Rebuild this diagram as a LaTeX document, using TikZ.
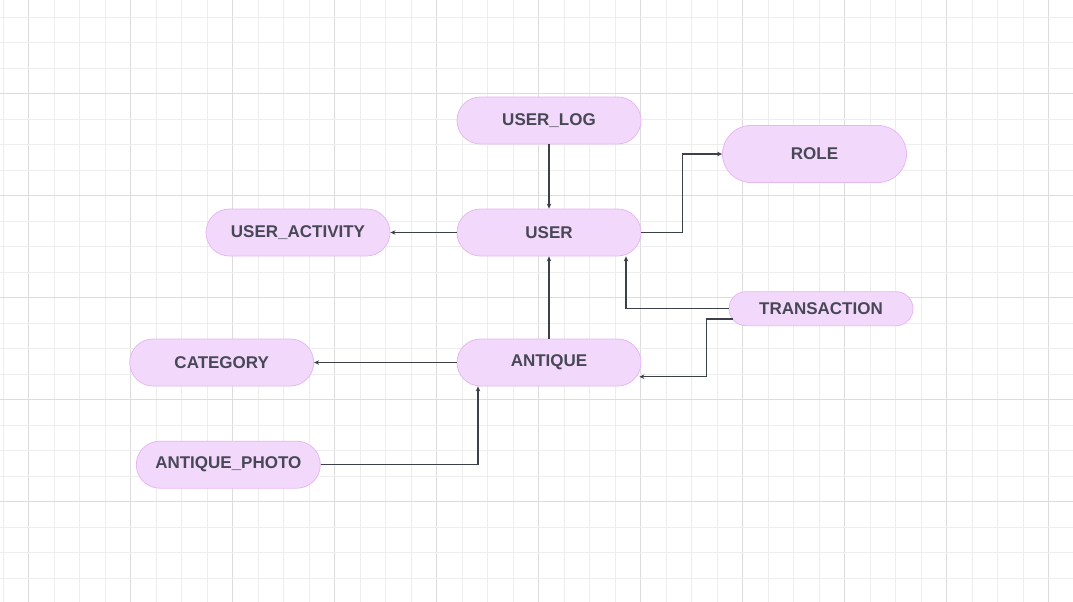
\documentclass[tikz,border=0pt]{standalone}
\usepackage{fontspec}
\setmainfont{Liberation Sans}
\usetikzlibrary{arrows.meta}
\definecolor{gridminor}{HTML}{EDEDED}
\definecolor{gridmajor}{HTML}{DCDCDC}
\definecolor{nodefill}{HTML}{F2D9FC}
\definecolor{nodeborder}{HTML}{E6B8F3}
\definecolor{nodetext}{HTML}{474756}
\definecolor{linecol}{HTML}{3C4048}
\tikzset{
  entity/.style={draw=nodeborder, fill=nodefill, line width=0.8pt,
    minimum width=184pt, minimum height=47pt, rounded corners=23.5pt,
    inner sep=0pt, text=nodetext,
    font=\fontsize{17}{19}\selectfont\bfseries},
  conn/.style={draw=linecol, line width=1.2pt,
    -{Stealth[length=5pt,width=4.5pt]}},
}
\begin{document}
\begin{tikzpicture}[x=1pt,y=-1pt]
\fill[white] (0,0) rectangle (1073,602);
\useasboundingbox (0,0) rectangle (1073,602);
% grid
\foreach \k in {0,...,42}{
  \pgfmathsetmacro{\xx}{3.3+25.5*\k}
  \pgfmathtruncatemacro{\m}{mod(\k+3,4)}
  \ifnum\m=0
    \draw[gridmajor, line width=0.8pt] (\xx,0) -- (\xx,602);
  \else
    \draw[gridminor, line width=0.8pt] (\xx,0) -- (\xx,602);
  \fi
}
\foreach \k in {0,...,23}{
  \pgfmathsetmacro{\yy}{17+25.5*\k}
  \pgfmathtruncatemacro{\m}{mod(\k+1,4)}
  \ifnum\m=0
    \draw[gridmajor, line width=0.8pt] (0,\yy) -- (1073,\yy);
  \else
    \draw[gridminor, line width=0.8pt] (0,\yy) -- (1073,\yy);
  \fi
}
% nodes
\node[entity] (userlog) at (549,120.5) {USER\_LOG};
\node[entity] (user) at (549,232.5) {USER};
\node[entity, minimum height=57pt, rounded corners=28.5pt] (role) at (814.5,154) {ROLE};
\node[entity, minimum height=34pt, rounded corners=17pt] (trans) at (821,308.7) {TRANSACTION};
\node[entity] (activity) at (298,232.5) {USER\_ACTIVITY};
\node[entity] (category) at (221.7,362.5) {CATEGORY};
\node[entity] (antique) at (549,362.5) {ANTIQUE};
\node[entity] (photo) at (228.3,464.7) {ANTIQUE\_PHOTO};
% connectors
\draw[conn] (userlog.south) -- (user.north);
\draw[conn] (user.west) -- (activity.east);
\draw[conn] (user.east) -- ++(41,0) |- (role.west);
\draw[conn] (trans.west) -| ([xshift=77pt]user.south);
\coordinate (tstart) at ([shift={(4,10.3)}]trans.west);
\coordinate (aend) at ([shift={(-2,14.2)}]antique.east);
\draw[conn] (tstart) -- ++(-26,0) |- (aend);
\draw[conn] (antique.west) -- (category.east);
\draw[conn] (antique.north) -- (user.south);
\draw[conn] (photo.east) -| ([xshift=-71pt]antique.south);
\end{tikzpicture}
\end{document}
